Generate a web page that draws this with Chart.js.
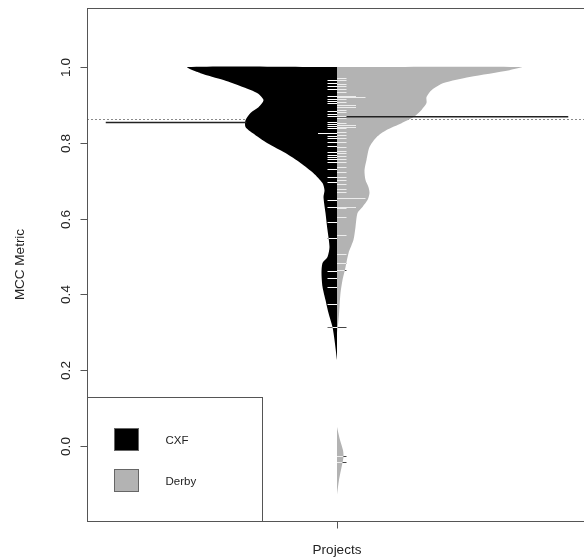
<!DOCTYPE html>
<html>
<head>
<meta charset="utf-8">
<script src="https://cdn.jsdelivr.net/npm/chart.js@4.4.0/dist/chart.umd.min.js"></script>
<style>
  html, body { margin: 0; padding: 0; overflow: hidden; background: #fff; }
  #wrap { width: 620px; height: 558px; }
</style>
</head>
<body>
<div id="wrap"><canvas id="chart" width="620" height="558"></canvas></div>
<script>
// axis ticks
const yTicks      = [0, 0.2, 0.4, 0.6, 0.8, 1.0];
const yTickLabels = ['0.0', '0.2', '0.4', '0.6', '0.8', '1.0'];
const groups      = ['CXF', 'Derby'];

// bean outlines (MCC value, half width of the density in x-axis units)
const cxfDensY = [1.000, 0.984, 0.966, 0.947, 0.931, 0.913, 0.894, 0.879, 0.860, 0.842, 0.826, 0.799, 0.773, 0.747, 0.720,
                  0.694, 0.675, 0.657, 0.615, 0.570, 0.525, 0.499, 0.483, 0.456, 0.420, 0.385, 0.351, 0.314, 0.280, 0.227];
const cxfDensW = [0.598, 0.546, 0.454, 0.374, 0.318, 0.294, 0.314, 0.346, 0.366, 0.366, 0.338, 0.278, 0.206, 0.146, 0.094,
                  0.058, 0.050, 0.054, 0.046, 0.038, 0.030, 0.038, 0.058, 0.062, 0.058, 0.046, 0.034, 0.018, 0.010, 0];
const derbyDensY = [1.000, 0.992, 0.974, 0.958, 0.939, 0.921, 0.905, 0.887, 0.868, 0.852, 0.834, 0.815, 0.789, 0.755, 0.728,
                    0.702, 0.683, 0.668, 0.649, 0.631, 0.615, 0.578, 0.544, 0.509, 0.472, 0.438, 0.404, 0.367, 0.332, 0.298];
const derbyDensW = [0.738, 0.690, 0.530, 0.426, 0.378, 0.358, 0.358, 0.338, 0.306, 0.258, 0.198, 0.158, 0.130, 0.118, 0.110,
                    0.114, 0.126, 0.130, 0.122, 0.102, 0.082, 0.074, 0.066, 0.046, 0.034, 0.022, 0.014, 0.010, 0.006, 0];
const derbyTailY = [0.050, 0.016, -0.011, -0.029, -0.050, -0.090, -0.129];
const derbyTailW = [0, 0.012, 0.024, 0.026, 0.020, 0.008, 0];

// individual observations (bean lines); repeated values draw longer lines
const cxfValues = [0.965, 0.958, 0.950, 0.943, 0.923, 0.917, 0.911, 0.906, 0.883, 0.877, 0.871, 0.855, 0.850, 0.844, 0.838,
                   0.827, 0.827, 0.818, 0.813, 0.802, 0.792, 0.776, 0.769, 0.763, 0.757, 0.749, 0.732, 0.710, 0.697, 0.648,
                   0.631, 0.591, 0.549, 0.463, 0.443, 0.419, 0.374, 0.315];
const derbyValues = [0.971, 0.965, 0.956, 0.950, 0.943, 0.934, 0.925, 0.925, 0.921, 0.921, 0.921, 0.915, 0.908, 0.901, 0.901,
                     0.894, 0.894, 0.888, 0.881, 0.872, 0.865, 0.853, 0.848, 0.848, 0.842, 0.842, 0.838, 0.829, 0.820, 0.813,
                     0.802, 0.789, 0.778, 0.772, 0.765, 0.758, 0.749, 0.736, 0.723, 0.710, 0.701, 0.692, 0.679, 0.670, 0.654,
                     0.654, 0.654, 0.631, 0.631, 0.628, 0.604, 0.556, 0.508, 0.482, 0.464, 0.315, -0.026, -0.042];

// group means and overall mean
const groupMeans  = [0.854, 0.869];
const overallMean = 0.863;

const CXF_COL   = '#000000';
const DERBY_COL = '#b3b3b3';
const BEAN_LEN  = 9.5;    // px per observation
const MEAN_LEN  = 0.925;  // x units

function outline(ys, ws, side) {
  const pts = [{ x: 0, y: ys[0] }];
  ys.forEach((y, i) => pts.push({ x: side * ws[i], y: y }));
  pts.push({ x: 0, y: ys[ys.length - 1] });
  return pts;
}

// half width (x units) of a bean at value v
function widthAt(v, ys, ws) {
  for (let i = 0; i < ys.length - 1; i++) {
    const a = ys[i], b = ys[i + 1];
    if (v <= a && v >= b) {
      const t = (a - v) / (a - b);
      return ws[i] + t * (ws[i + 1] - ws[i]);
    }
  }
  return 0;
}

function countValues(vals) {
  const m = new Map();
  vals.forEach(v => m.set(v, (m.get(v) || 0) + 1));
  return m;
}

const beanPlugin = {
  id: 'bean',
  beforeDatasetsDraw(chart) {
    const { ctx, chartArea: a, scales: { y } } = chart;
    const py = Math.round(y.getPixelForValue(overallMean)) + 0.5;
    ctx.save();
    ctx.strokeStyle = '#8a8a8a';
    ctx.lineWidth = 1;
    ctx.setLineDash([2, 2]);
    ctx.beginPath();
    ctx.moveTo(a.left, py);
    ctx.lineTo(a.right, py);
    ctx.stroke();
    ctx.restore();
  },
  afterDatasetsDraw(chart) {
    const { ctx, scales: { x, y } } = chart;
    const cx = x.getPixelForValue(0);
    const unit = x.getPixelForValue(1) - cx;
    ctx.save();

    // mean lines (CXF one only shows outside the black bean)
    ctx.strokeStyle = '#222';
    ctx.lineWidth = 1.5;
    groupMeans.forEach((m, i) => {
      const side = i === 0 ? -1 : 1;
      const start = i === 0 ? widthAt(m, cxfDensY, cxfDensW) - 0.004 : 0;
      const py = y.getPixelForValue(m);
      ctx.beginPath();
      ctx.moveTo(x.getPixelForValue(side * start), py);
      ctx.lineTo(x.getPixelForValue(side * MEAN_LEN), py);
      ctx.stroke();
    });

    // bean lines
    ctx.lineWidth = 1;
    const sides = [
      { vals: cxfValues, side: -1, inCol: '#ffffff', outCol: '#6a6a6a',
        w: v => widthAt(v, cxfDensY, cxfDensW) },
      { vals: derbyValues, side: 1, inCol: '#ececec', outCol: '#444444',
        w: v => Math.max(widthAt(v, derbyDensY, derbyDensW), widthAt(v, derbyTailY, derbyTailW)) }
    ];
    sides.forEach(s => {
      countValues(s.vals).forEach((n, v) => {
        const py = Math.round(y.getPixelForValue(v)) + 0.5;
        const len = n * BEAN_LEN;
        const inside = Math.min(len, s.w(v) * unit);
        ctx.strokeStyle = s.inCol;
        ctx.beginPath();
        ctx.moveTo(cx, py);
        ctx.lineTo(cx + s.side * inside, py);
        ctx.stroke();
        if (inside < len) {
          ctx.strokeStyle = s.outCol;
          ctx.beginPath();
          ctx.moveTo(cx + s.side * inside, py);
          ctx.lineTo(cx + s.side * len, py);
          ctx.stroke();
        }
      });
    });
    ctx.restore();
  },
  afterDraw(chart) {
    const { ctx, chartArea: a, scales: { x, y } } = chart;
    ctx.save();
    ctx.strokeStyle = '#555';
    ctx.lineWidth = 1;
    const L = Math.round(a.left) + 0.5, T = Math.round(a.top) + 0.5;
    const R = Math.round(a.right) + 0.5, B = Math.round(a.bottom) + 0.5;
    ctx.strokeRect(L, T, R - L, B - T);

    // y axis ticks and rotated labels
    ctx.fillStyle = '#222';
    ctx.font = '13.5px "Liberation Sans", Arial, sans-serif';
    ctx.textAlign = 'center';
    ctx.textBaseline = 'middle';
    yTicks.forEach((t, i) => {
      const py = Math.round(y.getPixelForValue(t)) + 0.5;
      ctx.beginPath();
      ctx.moveTo(L - 7, py);
      ctx.lineTo(L, py);
      ctx.stroke();
      ctx.save();
      ctx.translate(L - 21, py);
      ctx.rotate(-Math.PI / 2);
      ctx.fillText(yTickLabels[i], 0, 0);
      ctx.restore();
    });

    // x tick at the single bean
    const px = Math.round(x.getPixelForValue(0)) + 0.5;
    ctx.beginPath();
    ctx.moveTo(px, B);
    ctx.lineTo(px, B + 7);
    ctx.stroke();

    // legend, bottom left inside the plot
    const lw = 175, lh = 124;
    const lx = L, ly = B - lh;
    ctx.fillStyle = '#fff';
    ctx.fillRect(lx, ly, lw, lh);
    ctx.strokeRect(lx, ly, lw, lh);
    ctx.font = '11.5px "Liberation Sans", Arial, sans-serif';
    ctx.textAlign = 'left';
    [CXF_COL, DERBY_COL].forEach((col, i) => {
      const cy = ly + 42 + i * 41;
      ctx.fillStyle = col;
      ctx.fillRect(lx + 27, cy - 11, 24, 22);
      ctx.strokeStyle = '#666';
      ctx.strokeRect(lx + 27, cy - 11, 24, 22);
      ctx.fillStyle = '#222';
      ctx.fillText(groups[i], lx + 78, cy + 1);
    });
    ctx.restore();
  }
};

new Chart(document.getElementById('chart'), {
  type: 'line',
  data: {
    datasets: [
      { label: groups[0], data: outline(cxfDensY, cxfDensW, -1),
        backgroundColor: CXF_COL, borderColor: 'rgba(0,0,0,0)', borderWidth: 0, fill: 'shape' },
      { label: groups[1], data: outline(derbyDensY, derbyDensW, 1),
        backgroundColor: DERBY_COL, borderColor: 'rgba(0,0,0,0)', borderWidth: 0, fill: 'shape' },
      { label: groups[1] + ' tail', data: outline(derbyTailY, derbyTailW, 1),
        backgroundColor: DERBY_COL, borderColor: 'rgba(0,0,0,0)', borderWidth: 0, fill: 'shape' }
    ]
  },
  options: {
    responsive: false,
    animation: false,
    layout: { padding: { top: 8, right: 33, left: 0, bottom: 0 } },
    elements: { point: { radius: 0 }, line: { tension: 0.25 } },
    plugins: { legend: { display: false }, tooltip: { enabled: false } },
    scales: {
      x: {
        type: 'linear', min: -1, max: 1,
        grid: { display: false }, border: { display: false },
        ticks: { display: false },
        title: { display: true, text: 'Projects', color: '#222',
                 font: { family: '"Liberation Sans", Arial, sans-serif', size: 13.5 },
                 padding: { top: 1, bottom: 0 } },
        afterFit(s) { s.height = 37; }
      },
      y: {
        type: 'linear', min: -0.198, max: 1.156,
        grid: { display: false }, border: { display: false },
        ticks: { display: false },
        title: { display: true, text: 'MCC Metric', color: '#222',
                 font: { family: '"Liberation Sans", Arial, sans-serif', size: 13.5 },
                 padding: { top: 12, bottom: 0 } },
        afterFit(s) { s.width = 87; }
      }
    }
  },
  plugins: [beanPlugin]
});
</script>
</body>
</html>
